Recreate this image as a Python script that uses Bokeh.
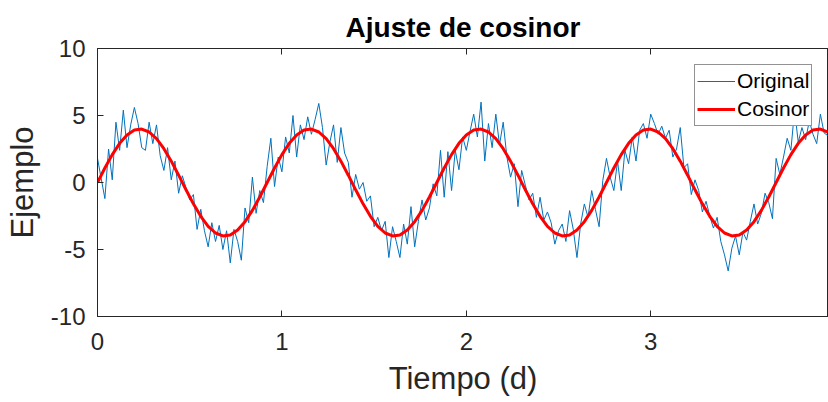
from bokeh.plotting import figure
from bokeh.models import (Range1d, FixedTicker, LinearAxis, Legend, LegendItem,
                          ColumnDataSource, PrintfTickFormatter)
from bokeh.embed import file_html
from bokeh.resources import INLINE

# ---- data ----
t_orig = [round(0.02 * i, 2) for i in range(199)]  # sampling grid (days)
y_orig = [
    1.8, 0.3, -1.2, 2.5, 0.2, 4.5, 2.4, 5.4, 2.6, 4.3,
    5.6, 4.4, 2.6, 2.4, 4.5, 2.9, 4.3, 2.0, 0.9, 2.6,
    0.2, 1.6, -0.8, 0.5, -0.4, -1.3, -0.9, -3.5, -2.0, -3.6,
    -4.8, -3.0, -4.4, -3.2, -5.0, -3.6, -6.0, -3.5, -4.4, -5.8,
    -1.9, -3.0, 0.4, -2.3, -0.6, -1.5, 1.2, 3.3, -0.3, 1.9,
    0.8, 3.4, 2.2, 5.0, 1.9, 4.3, 3.2, 4.9, 3.6, 4.7,
    5.9, 4.1, 1.3, 3.0, 4.3, 1.5, 4.1, 2.2, 1.5, -1.1,
    0.6, -0.5, 0.0, -1.4, -1.0, -3.3, -2.6, -3.6, -2.9, -5.6,
    -3.3, -4.4, -5.6, -3.1, -4.6, -1.8, -4.8, -2.9, -1.3, -2.8,
    -1.9, -0.1, -1.0, 2.4, -1.1, 2.3, -0.6, 2.4, 0.95, 3.4,
    2.4, 3.8, 5.1, 3.4, 6.0, 1.6, 4.4, 2.6, 5.1, 2.8,
    4.5, 1.9, 0.4, 1.4, -1.8, 0.9, -0.2, -1.3, -0.8, -2.6,
    -1.1, -2.8, -2.2, -3.0, -4.6, -3.6, -3.1, -4.4, -2.1, -3.5,
    -5.6, -3.1, -1.6, -2.6, -0.6, -2.0, -3.3, 0.15, 1.8, 0.4,
    -0.6, 1.6, -0.6, 2.4, 1.4, 3.4, 1.6, 3.9, 4.4, 3.3,
    5.1, 4.4, 3.6, 4.2, 3.3, 3.9, 1.9, 2.5, 4.1, 1.1,
    1.4, -0.9, 0.2, -0.6, -2.2, -1.4, -2.5, -3.4, -2.6, -4.4,
    -5.4, -6.6, -4.9, -4.0, -5.4, -3.7, -4.3, -2.9, -1.6, -3.1,
    -2.3, -0.8, -1.5, -2.7, 1.8, 0.6, 1.9, 3.3, 2.4, 5.4,
    3.0, 4.1, 3.2, 4.6, 3.6, 2.9, 5.1, 3.7, 3.5,
]

t_fit = [round(0.04 * i, 2) for i in range(100)]
y_fit = [
    0.0, 1.079, 2.079, 2.923, 3.552, 3.916, 3.991, 3.769, 3.268, 2.525,
    1.594, 0.545, -0.545, -1.594, -2.525, -3.268, -3.769, -3.991, -3.916, -3.552,
    -2.923, -2.079, -1.079,
    0.0, 1.079, 2.079, 2.923, 3.552, 3.916, 3.991, 3.769, 3.268, 2.525,
    1.594, 0.545, -0.545, -1.594, -2.525, -3.268, -3.769, -3.991, -3.916, -3.552,
    -2.923, -2.079, -1.079,
    0.0, 1.079, 2.079, 2.923, 3.552, 3.916, 3.991, 3.769, 3.268, 2.525,
    1.594, 0.545, -0.545, -1.594, -2.525, -3.268, -3.769, -3.991, -3.916, -3.552,
    -2.923, -2.079, -1.079,
    0.0, 1.079, 2.079, 2.923, 3.552, 3.916, 3.991, 3.769, 3.268, 2.525,
    1.594, 0.545, -0.545, -1.594, -2.525, -3.268, -3.769, -3.991, -3.916, -3.552,
    -2.923, -2.079, -1.079,
    0.0, 1.079, 2.079, 2.923, 3.552, 3.916, 3.991, 3.769,
]

x_ticks = [0, 1, 2, 3]
y_ticks = [-10, -5, 0, 5, 10]
title_text = "Ajuste de cosinor"
x_label = "Tiempo (d)"
y_label = "Ejemplo"
series_names = ["Original", "Cosinor"]

FONT = "Liberation Sans"
AX = "#262626"

p = figure(width=828, height=402, output_backend="svg", toolbar_location=None,
           x_range=Range1d(0, 3.964), y_range=Range1d(-10, 10),
           min_border_left=97, min_border_right=0, min_border_top=48, min_border_bottom=86)
p.frame_width = 731
p.frame_height = 268

p.title.text = title_text
p.title.align = "center"
p.title.text_font = FONT
p.title.text_font_size = "28px"
p.title.text_font_style = "bold"
p.title.text_color = "#000000"
p.title.standoff = 11

p.grid.visible = False
p.outline_line_color = AX
p.outline_line_width = 1

for ax, ticks in ((p.xaxis[0], x_ticks), (p.yaxis[0], y_ticks)):
    ax.ticker = FixedTicker(ticks=ticks)
    ax.formatter = PrintfTickFormatter(format="%d")
    ax.major_tick_in = 6
    ax.major_tick_out = 0
    ax.minor_tick_line_color = None
    ax.axis_line_color = AX
    ax.major_tick_line_color = AX
    ax.major_label_text_font = FONT
    ax.major_label_text_font_size = "24px"
    ax.major_label_text_color = AX
    ax.axis_label_text_font = FONT
    ax.axis_label_text_font_size = "31px"
    ax.axis_label_text_font_style = "normal"
    ax.axis_label_text_color = AX

p.xaxis[0].axis_label = x_label
p.xaxis[0].major_label_standoff = 16
p.xaxis[0].axis_label_standoff = 8
p.yaxis[0].axis_label = y_label
p.yaxis[0].major_label_standoff = 12
p.yaxis[0].axis_label_standoff = 8

# top box edge with inward ticks, no labels
top = LinearAxis(ticker=FixedTicker(ticks=x_ticks),
                 major_label_overrides={t: "" for t in x_ticks},
                 major_tick_in=6, major_tick_out=0, minor_tick_line_color=None,
                 axis_line_color=AX, major_tick_line_color=AX, major_label_standoff=0)
p.add_layout(top, "above")

src_o = ColumnDataSource(dict(x=t_orig, y=y_orig))
src_f = ColumnDataSource(dict(x=t_fit, y=y_fit))
r1 = p.line("x", "y", source=src_o, line_color="#0072BD", line_width=1)
r2 = p.line("x", "y", source=src_f, line_color="#FF0000", line_width=3)

leg = Legend(items=[LegendItem(label=series_names[0], renderers=[r1]),
                    LegendItem(label=series_names[1], renderers=[r2])],
             location=(597, 190))
leg.label_text_font = FONT
leg.label_text_font_size = "21px"
leg.label_text_color = "#000000"
leg.border_line_color = "#262626"
leg.border_line_width = 1
leg.padding = 2
leg.spacing = 0
leg.margin = 0
leg.glyph_width = 38
leg.glyph_height = 28
leg.label_height = 28
leg.label_standoff = 2
leg.background_fill_alpha = 1
p.add_layout(leg, "center")

open("out.html", "w").write(file_html(p, INLINE))
